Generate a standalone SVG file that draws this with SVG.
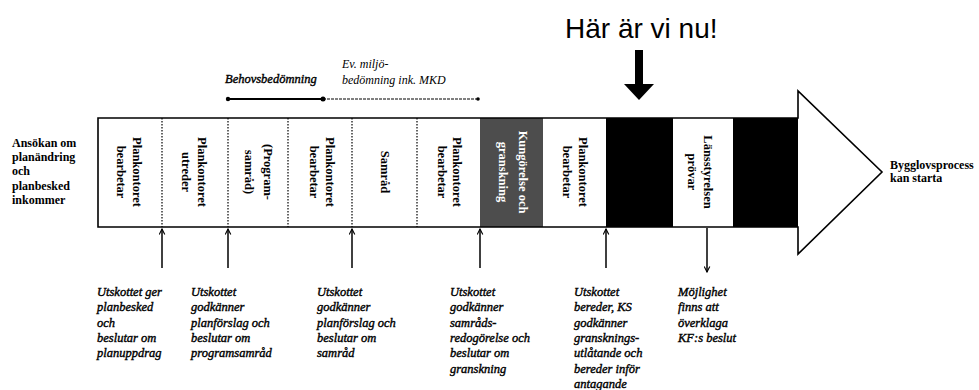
<svg xmlns="http://www.w3.org/2000/svg" width="979" height="390" viewBox="0 0 979 390">
<style>
.seg{font-family:"Liberation Serif",serif;font-size:12.5px;font-weight:bold;fill:#000}
.lbl{font-family:"Liberation Serif",serif;font-size:12.5px;font-style:italic;fill:#000;stroke:#000;stroke-width:0.4}
.side{font-family:"Liberation Serif",serif;font-size:12px;font-weight:bold;fill:#000}
.div{stroke:#000;stroke-width:1.2;stroke-dasharray:1.5 1.5}
.arr{stroke:#000;stroke-width:1.5;fill:none}
</style>
<defs>
<marker id="ah" viewBox="0 0 10 10" refX="9" refY="5" markerWidth="7" markerHeight="7" orient="auto" markerUnits="userSpaceOnUse">
<path d="M1,1 L9,5 L1,9" fill="none" stroke="#000" stroke-width="1.6"/>
</marker>
</defs>
<rect width="979" height="390" fill="#fff"/>

<g id="here">
<text x="565" y="38" font-family="Liberation Sans, sans-serif" font-size="28" fill="#000">Här är vi nu!</text>
<path d="M635,50 H643 V84 H654 L639,100 L624,84 H635 Z" fill="#000"/>
</g>

<g id="phases">
<text class="lbl" x="225" y="83">Behovsbedömning</text>
<text x="342" y="68" font-family="Liberation Serif, serif" font-size="12" font-style="italic" fill="#000">Ev. miljö-</text>
<text x="342" y="84" font-family="Liberation Serif, serif" font-size="12" font-style="italic" fill="#000">bedömning ink. MKD</text>
<line x1="228" y1="99" x2="323" y2="99" stroke="#000" stroke-width="2"/>
<line x1="323" y1="99" x2="478" y2="99" stroke="#000" stroke-width="1" stroke-dasharray="3 1"/>
<circle cx="228" cy="99" r="2.2" fill="#000"/>
<circle cx="323" cy="99" r="2.5" fill="#000"/>
<circle cx="478" cy="99" r="1.8" fill="#000"/>
</g>

<g id="start">
<text class="side" x="12" y="147">Ansökan om</text>
<text class="side" x="12" y="161">planändring</text>
<text class="side" x="12" y="175">och</text>
<text class="side" x="12" y="190">planbesked</text>
<text class="side" x="12" y="204">inkommer</text>
</g>

<g id="timeline">
<rect x="480" y="118" width="63" height="109" fill="#4d4d4d"/>
<rect x="606" y="118" width="67" height="109" fill="#000"/>
<rect x="733" y="118" width="65" height="109" fill="#000"/>
<path d="M98,118 H798 V91 L882,172 L798,254 V227 H98 Z" fill="none" stroke="#000" stroke-width="1.6"/>
<line class="div" x1="162" y1="118" x2="162" y2="227"/>
<line class="div" x1="228" y1="118" x2="228" y2="227"/>
<line class="div" x1="288" y1="118" x2="288" y2="227"/>
<line class="div" x1="352" y1="118" x2="352" y2="227"/>
<line class="div" x1="417" y1="118" x2="417" y2="227"/>
</g>

<g id="s1" transform="translate(130,172) rotate(90)"><text class="seg" text-anchor="middle" y="-3">Plankontoret</text><text class="seg" text-anchor="middle" y="13">bearbetar</text></g>
<g id="s2" transform="translate(195,172) rotate(90)"><text class="seg" text-anchor="middle" y="-3">Plankontoret</text><text class="seg" text-anchor="middle" y="13">utreder</text></g>
<g id="s3" transform="translate(258,172) rotate(90)"><text class="seg" text-anchor="middle" y="-6">(Program-</text><text class="seg" text-anchor="middle" y="13">samråd)</text></g>
<g id="s4" transform="translate(320,172) rotate(90)"><text class="seg" text-anchor="middle" y="-6">Plankontoret</text><text class="seg" text-anchor="middle" y="10">bearbetar</text></g>
<g id="s5" transform="translate(385,172) rotate(90)"><text class="seg" text-anchor="middle" y="4">Samråd</text></g>
<g id="s6" transform="translate(448,172) rotate(90)"><text class="seg" text-anchor="middle" y="-5">Plankontoret</text><text class="seg" text-anchor="middle" y="10">bearbetar</text></g>
<g id="s7" transform="translate(512,172) rotate(90)"><text class="seg" text-anchor="middle" y="-7" style="fill:#fff">Kungörelse och</text><text class="seg" text-anchor="middle" y="13" style="fill:#fff">granskning</text></g>
<g id="s8" transform="translate(575,172) rotate(90)"><text class="seg" text-anchor="middle" y="-4">Plankontoret</text><text class="seg" text-anchor="middle" y="12">bearbetar</text></g>
<g id="s9" transform="translate(703,172) rotate(90)"><text class="seg" text-anchor="middle" y="-1">Länsstyrelsen</text><text class="seg" text-anchor="middle" y="15">prövar</text></g>

<g id="connectors">
<line class="arr" x1="162" y1="268" x2="162" y2="229" marker-end="url(#ah)"/>
<line class="arr" x1="228" y1="268" x2="228" y2="229" marker-end="url(#ah)"/>
<line class="arr" x1="352" y1="268" x2="352" y2="229" marker-end="url(#ah)"/>
<line class="arr" x1="480" y1="268" x2="480" y2="229" marker-end="url(#ah)"/>
<line class="arr" x1="606" y1="268" x2="606" y2="229" marker-end="url(#ah)"/>
<line class="arr" x1="707" y1="228" x2="707" y2="272" marker-end="url(#ah)"/>
</g>

<g id="d1"><text class="lbl" x="97" y="296">Utskottet ger</text><text class="lbl" x="97" y="311">planbesked</text><text class="lbl" x="97" y="327">och</text><text class="lbl" x="97" y="342">beslutar om</text><text class="lbl" x="97" y="357">planuppdrag</text></g>
<g id="d2"><text class="lbl" x="191" y="296">Utskottet</text><text class="lbl" x="191" y="311">godkänner</text><text class="lbl" x="191" y="327">planförslag och</text><text class="lbl" x="191" y="342">beslutar om</text><text class="lbl" x="191" y="357">programsamråd</text></g>
<g id="d3"><text class="lbl" x="317" y="296">Utskottet</text><text class="lbl" x="317" y="311">godkänner</text><text class="lbl" x="317" y="327">planförslag och</text><text class="lbl" x="317" y="342">beslutar om</text><text class="lbl" x="317" y="357">samråd</text></g>
<g id="d4"><text class="lbl" x="450" y="296">Utskottet</text><text class="lbl" x="450" y="311">godkänner</text><text class="lbl" x="450" y="327">samråds-</text><text class="lbl" x="450" y="342">redogörelse och</text><text class="lbl" x="450" y="357">beslutar om</text><text class="lbl" x="450" y="373">granskning</text></g>
<g id="d5"><text class="lbl" x="574" y="296">Utskottet</text><text class="lbl" x="574" y="311">bereder, KS</text><text class="lbl" x="574" y="327">godkänner</text><text class="lbl" x="574" y="342">gransknings-</text><text class="lbl" x="574" y="357">utlåtande och</text><text class="lbl" x="574" y="373">bereder inför</text><text class="lbl" x="574" y="388">antagande</text></g>
<g id="d6"><text class="lbl" x="678" y="296">Möjlighet</text><text class="lbl" x="678" y="311">finns att</text><text class="lbl" x="678" y="327">överklaga</text><text class="lbl" x="678" y="342">KF:s beslut</text></g>

<g id="end">
<text class="side" x="890" y="169">Bygglovsprocess</text>
<text class="side" x="890" y="182">kan starta</text>
</g>
</svg>
